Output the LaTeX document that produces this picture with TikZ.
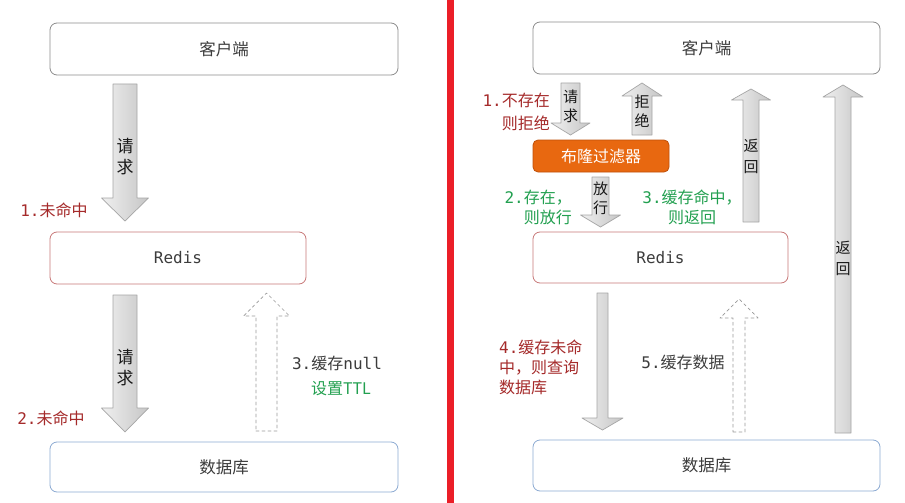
\documentclass[tikz,border=0pt]{standalone}
\usepackage{fontspec}
\setmainfont{Noto Sans CJK SC}
\setmonofont{DejaVu Sans Mono}
\definecolor{Txt}{RGB}{60,60,60}
\definecolor{Hred}{RGB}{165,42,42}
\definecolor{Hgreen}{RGB}{34,160,80}
\definecolor{Gbox}{RGB}{140,140,140}
\definecolor{Rbox}{RGB}{200,120,120}
\definecolor{Bbox}{RGB}{140,170,210}
\definecolor{Ofill}{RGB}{232,104,16}
\definecolor{Oline}{RGB}{190,80,10}
\definecolor{Sep}{RGB}{235,30,40}

% block arrows: #1 style, #2 x, #3 tail y, #4 tip y, #5 half shaft, #6 half head, #7 head length
\newcommand{\blockdown}[7]{%
  \draw[#1] ({#2-#5},#3) -- ({#2+#5},#3) -- ({#2+#5},{#4-#7}) -- ({#2+#6},{#4-#7})
    -- (#2,#4) -- ({#2-#6},{#4-#7}) -- ({#2-#5},{#4-#7}) -- cycle;}
\newcommand{\blockup}[7]{%
  \draw[#1] ({#2-#5},#3) -- ({#2+#5},#3) -- ({#2+#5},{#4+#7}) -- ({#2+#6},{#4+#7})
    -- (#2,#4) -- ({#2-#6},{#4+#7}) -- ({#2-#5},{#4+#7}) -- cycle;}

\tikzset{
  box/.style={draw,rounded corners=7pt,line width=0.8pt,fill=white,text=Txt,
    font=\fontsize{16.5}{19}\selectfont},
  monobox/.style={box,font=\ttfamily\fontsize{16}{18}\selectfont},
  solidarr/.style={draw=gray!70,line width=0.7pt,left color=gray!12,right color=gray!45},
  dasharr/.style={draw=gray!80,line width=0.7pt,dashed,fill=white},
  vlabel/.style={align=center,text=black!90,inner sep=0pt},
  note/.style={align=left,inner sep=0pt,font=\fontsize{16}{20}\selectfont},
}

\begin{document}
\begin{tikzpicture}[x=1pt,y=-1pt,line cap=round,line join=round]
\path[use as bounding box,fill=white] (0,0) rectangle (905,503);
\fill[Sep] (447,0) rectangle (454,503);

% left: plain cache
\node[box,draw=Gbox,minimum width=348pt,minimum height=52pt] (lclient) at (224,49) {客户端};
\node[monobox,draw=Rbox,minimum width=256pt,minimum height=52pt] (lredis) at (178,258) {Redis};
\node[box,draw=Bbox,minimum width=348pt,minimum height=50pt] (ldb) at (224,467) {数据库};
\blockdown{solidarr}{125}{84}{221}{12}{23.5}{23}
\blockdown{solidarr}{125}{295}{432}{12}{23.5}{24}
\blockup{dasharr}{266.5}{431}{293}{10.5}{23}{23}
\node[vlabel,font=\fontsize{17}{21}\selectfont] (lreq1) at (125,157) {请\\求};
\node[vlabel,font=\fontsize{17}{21}\selectfont] (lreq2) at (125,368) {请\\求};
\node[note,text=Hred] (lmiss1) at (54,210) {\texttt{1.}未命中};
\node[note,text=Hred] (lmiss2) at (51,418) {\texttt{2.}未命中};
\node[note,text=Txt] (lnull) at (337,363) {\texttt{3.}缓存\texttt{null}};
\node[note,text=Hgreen] (lttl) at (341,389) {设置TTL};

% right: with bloom filter
\node[box,draw=Gbox,minimum width=347pt,minimum height=52pt] (rclient) at (706.5,48) {客户端};
\node[box,draw=Oline,fill=Ofill,text=white,rounded corners=5pt,minimum width=136pt,minimum height=32pt,
  font=\fontsize{16}{18}\selectfont] (bloom) at (601,156) {布隆过滤器};
\node[monobox,draw=Rbox,minimum width=255pt,minimum height=51pt] (rredis) at (660.5,257.5) {Redis};
\node[box,draw=Bbox,minimum width=347pt,minimum height=51pt] (rdb) at (706.5,465.5) {数据库};
\blockdown{solidarr}{570.5}{83}{135}{9.5}{19.5}{12}
\blockup{solidarr}{642}{135}{83}{10}{20}{13}
\blockdown{solidarr}{600.5}{177}{227}{8.5}{20}{12}
\blockup{solidarr}{751}{222}{89}{8}{19.5}{11}
\blockup{solidarr}{843}{433}{85}{8}{20}{12}
\blockdown{solidarr}{602.5}{293}{430}{5.5}{20.5}{12}
\blockup{dasharr}{739}{432}{299}{6}{19}{19}
\node[vlabel,font=\fontsize{15}{19}\selectfont] (rreq) at (570.5,106) {请\\求};
\node[vlabel,font=\fontsize{15}{19}\selectfont] (rrej) at (642,111) {拒\\绝};
\node[vlabel,font=\fontsize{15}{19}\selectfont] (rpass) at (600.5,198) {放\\行};
\node[vlabel,font=\fontsize{15}{21}\selectfont] (rret1) at (751,156) {返\\回};
\node[vlabel,font=\fontsize{15}{21}\selectfont] (rret2) at (843,258) {返\\回};
\node[note,text=Hred,align=right,anchor=east,font=\fontsize{16}{23}\selectfont] (rno) at (550,112) {\texttt{1.}不存在\\则拒绝};
\node[note,text=Hgreen,align=right,anchor=east] (ryes) at (572,207) {\texttt{2.}存在，\\则放行};
\node[note,text=Hgreen,align=center] (rhit) at (692,207) {\texttt{3.}缓存命中，\\则返回};
\node[note,text=Hred,anchor=west] (rmiss) at (499,367) {\texttt{4.}缓存未命\\中，则查询\\数据库};
\node[note,text=Txt] (rsave) at (683,362) {\texttt{5.}缓存数据};
\end{tikzpicture}
\end{document}
